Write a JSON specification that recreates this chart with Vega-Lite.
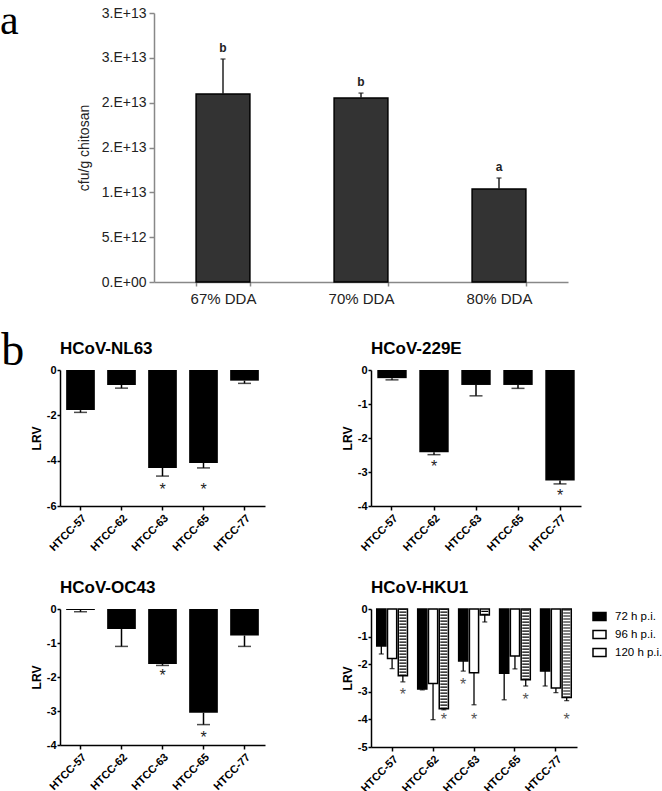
{
  "$schema": "https://vega.github.io/schema/vega-lite/v6.json",
  "background": "white",
  "padding": {"left": 0, "top": 0, "right": 0, "bottom": 0},
  "config": {
    "view": {"stroke": null},
    "font": "Liberation Sans",
    "axis": {"grid": false, "domainColor": "black", "tickColor": "black", "labelColor": "black", "titleColor": "black", "domainWidth": 1.5, "tickWidth": 1.5, "labelOverlap": false},
    "title": {"color": "black"}
  },
  "columns": 1,
  "align": "none",
  "spacing": 22,
  "resolve": {"scale": {"fill": "independent"}, "legend": {"fill": "independent"}},
  "concat": [
    {
      "hconcat": [
        {
          "width": 17, "height": 269,
          "title": {"text": "a", "anchor": "start", "frame": "group", "font": "Liberation Serif", "fontSize": 42, "fontWeight": "normal", "dx": -60, "dy": 30, "offset": 0},
          "data": {"values": []},
          "mark": {"type": "text"}
        },
        {
          "width": 414,
          "height": 269,
          "data": {"values": [
            {"dda": "67% DDA", "cfu": 2.097e13, "err": 2.487e13, "letter": "b"},
            {"dda": "70% DDA", "cfu": 2.052e13, "err": 2.107e13, "letter": "b"},
            {"dda": "80% DDA", "cfu": 1.037e13, "err": 1.16e13, "letter": "a"}
          ]},
          "encoding": {
            "x": {"field": "dda", "type": "nominal", "sort": null, "scale": {"paddingInner": 0.61, "paddingOuter": 0.305},
              "axis": {"title": null, "labelAngle": 0, "tickBand": "extent", "labelFontSize": 15, "labelColor": "#222", "domainColor": "#888", "tickColor": "#888", "labelPadding": 5, "tickSize": 4}}
          },
          "layer": [
            {"mark": {"type": "bar", "fill": "#333", "stroke": "black", "strokeWidth": 1.5},
             "encoding": {"y": {"field": "cfu", "type": "quantitative", "scale": {"domain": [0, 3e13], "nice": false},
               "axis": {"title": "cfu/g chitosan", "titleFontSize": 14, "titleFontWeight": "normal", "titleColor": "#222", "titlePadding": 10,
                 "values": [0, 5e12, 1e13, 1.5e13, 2e13, 2.5e13, 3e13], "tickCount": 20, "labelOverlap": false,
                 "labelExpr": "datum.value == 0 ? '0.E+00' : replace(format(datum.value, '.0e'), 'e', '.E')",
                 "labelFontSize": 14, "labelColor": "#222", "domainColor": "#888", "tickColor": "#888", "tickSize": 5, "labelPadding": 3}}}},
            {"mark": {"type": "rule", "color": "#222", "strokeWidth": 1.5},
             "encoding": {"y": {"field": "cfu", "type": "quantitative"}, "y2": {"field": "err"}}},
            {"mark": {"type": "tick", "size": 5, "thickness": 1.5, "color": "#222"},
             "encoding": {"y": {"field": "err", "type": "quantitative"}}},
            {"mark": {"type": "text", "dy": -11, "fontWeight": "bold", "fontSize": 12, "color": "#222"},
             "encoding": {"y": {"field": "err", "type": "quantitative"}, "text": {"field": "letter"}}}
          ]
        }
      ],
      "spacing": 0
    },
    {
      "title": {"text": "b", "anchor": "start", "frame": "bounds", "font": "Liberation Serif", "fontSize": 46, "fontWeight": "normal", "dx": -29, "dy": 35, "offset": 0},
      "columns": 2,
      "spacing": {"row": 26, "column": 76},
      "resolve": {"scale": {"fill": "independent"}, "legend": {"fill": "independent"}},
      "concat": [
        {
          "width": 205, "height": 136,
          "title": {"text": "HCoV-NL63", "anchor": "start", "frame": "group", "fontSize": 17, "fontWeight": "bold", "offset": 6},
          "data": {"values": [
            {"cell": "HTCC-57", "lrv": -1.77, "err": -1.87, "star": null},
            {"cell": "HTCC-62", "lrv": -0.66, "err": -0.8, "star": null},
            {"cell": "HTCC-63", "lrv": -4.32, "err": -4.68, "star": -5.1},
            {"cell": "HTCC-65", "lrv": -4.1, "err": -4.32, "star": -5.1},
            {"cell": "HTCC-77", "lrv": -0.47, "err": -0.59, "star": null}
          ]},
          "encoding": {"x": {"field": "cell", "type": "nominal", "sort": null, "scale": {"paddingInner": 0.3, "paddingOuter": 0.15},
            "axis": {"title": null, "labelAngle": -45, "labelFontWeight": "bold", "labelFontSize": 11, "tickSize": 4, "labelPadding": 2}}},
          "layer": [
            {"mark": {"type": "bar", "fill": "black"},
             "encoding": {"y": {"field": "lrv", "type": "quantitative", "scale": {"domain": [-6, 0], "nice": false},
               "axis": {"title": "LRV", "values": [0, -2, -4, -6], "tickCount": 20, "labelOverlap": false, "labelExpr": "'' + datum.value", "labelFontWeight": "bold", "labelFontSize": 11, "titleFontSize": 12, "titleFontWeight": "bold", "tickSize": 3, "labelPadding": 1, "titlePadding": 3}}}},
            {"mark": {"type": "rule", "strokeWidth": 1.5, "color": "black"},
             "encoding": {"y": {"field": "lrv", "type": "quantitative"}, "y2": {"field": "err"}}},
            {"mark": {"type": "tick", "size": 13, "thickness": 1.5, "color": "black"},
             "encoding": {"y": {"field": "err", "type": "quantitative"}}},
            {"transform": [{"filter": "datum.star != null"}],
             "mark": {"type": "text", "text": "*", "fontSize": 16, "dy": 4.5, "color": "#222"},
             "encoding": {"y": {"field": "star", "type": "quantitative"}}},
            {"mark": {"type": "rule", "strokeWidth": 1.5, "color": "black"},
             "encoding": {"y": {"datum": 0, "type": "quantitative"}}}
          ]
        },
        {
          "width": 210, "height": 136,
          "title": {"text": "HCoV-229E", "anchor": "start", "frame": "group", "fontSize": 17, "fontWeight": "bold", "offset": 6},
          "data": {"values": [
            {"cell": "HTCC-57", "lrv": -0.24, "err": -0.29, "star": null},
            {"cell": "HTCC-62", "lrv": -2.42, "err": -2.49, "star": -2.73},
            {"cell": "HTCC-63", "lrv": -0.44, "err": -0.76, "star": null},
            {"cell": "HTCC-65", "lrv": -0.44, "err": -0.54, "star": null},
            {"cell": "HTCC-77", "lrv": -3.25, "err": -3.35, "star": -3.58}
          ]},
          "encoding": {"x": {"field": "cell", "type": "nominal", "sort": null, "scale": {"paddingInner": 0.3, "paddingOuter": 0.15},
            "axis": {"title": null, "labelAngle": -45, "labelFontWeight": "bold", "labelFontSize": 11, "tickSize": 4, "labelPadding": 2}}},
          "layer": [
            {"mark": {"type": "bar", "fill": "black"},
             "encoding": {"y": {"field": "lrv", "type": "quantitative", "scale": {"domain": [-4, 0], "nice": false},
               "axis": {"title": "LRV", "values": [0, -1, -2, -3, -4], "tickCount": 20, "labelOverlap": false, "labelExpr": "'' + datum.value", "labelFontWeight": "bold", "labelFontSize": 11, "titleFontSize": 12, "titleFontWeight": "bold", "tickSize": 3, "labelPadding": 1, "titlePadding": 3}}}},
            {"mark": {"type": "rule", "strokeWidth": 1.5, "color": "black"},
             "encoding": {"y": {"field": "lrv", "type": "quantitative"}, "y2": {"field": "err"}}},
            {"mark": {"type": "tick", "size": 13, "thickness": 1.5, "color": "black"},
             "encoding": {"y": {"field": "err", "type": "quantitative"}}},
            {"transform": [{"filter": "datum.star != null"}],
             "mark": {"type": "text", "text": "*", "fontSize": 16, "dy": 4.5, "color": "#222"},
             "encoding": {"y": {"field": "star", "type": "quantitative"}}},
            {"mark": {"type": "rule", "strokeWidth": 1.5, "color": "black"},
             "encoding": {"y": {"datum": 0, "type": "quantitative"}}}
          ]
        },
        {
          "width": 205, "height": 136,
          "title": {"text": "HCoV-OC43", "anchor": "start", "frame": "group", "fontSize": 17, "fontWeight": "bold", "offset": 6},
          "data": {"values": [
            {"cell": "HTCC-57", "lrv": -0.03, "err": -0.08, "star": null},
            {"cell": "HTCC-62", "lrv": -0.59, "err": -1.1, "star": null},
            {"cell": "HTCC-63", "lrv": -1.62, "err": -1.66, "star": -1.84},
            {"cell": "HTCC-65", "lrv": -3.05, "err": -3.4, "star": -3.66},
            {"cell": "HTCC-77", "lrv": -0.78, "err": -1.1, "star": null}
          ]},
          "encoding": {"x": {"field": "cell", "type": "nominal", "sort": null, "scale": {"paddingInner": 0.3, "paddingOuter": 0.15},
            "axis": {"title": null, "labelAngle": -45, "labelFontWeight": "bold", "labelFontSize": 11, "tickSize": 4, "labelPadding": 2}}},
          "layer": [
            {"mark": {"type": "bar", "fill": "black"},
             "encoding": {"y": {"field": "lrv", "type": "quantitative", "scale": {"domain": [-4, 0], "nice": false},
               "axis": {"title": "LRV", "values": [0, -1, -2, -3, -4], "tickCount": 20, "labelOverlap": false, "labelExpr": "'' + datum.value", "labelFontWeight": "bold", "labelFontSize": 11, "titleFontSize": 12, "titleFontWeight": "bold", "tickSize": 3, "labelPadding": 1, "titlePadding": 3}}}},
            {"mark": {"type": "rule", "strokeWidth": 1.5, "color": "black"},
             "encoding": {"y": {"field": "lrv", "type": "quantitative"}, "y2": {"field": "err"}}},
            {"mark": {"type": "tick", "size": 13, "thickness": 1.5, "color": "black"},
             "encoding": {"y": {"field": "err", "type": "quantitative"}}},
            {"transform": [{"filter": "datum.star != null"}],
             "mark": {"type": "text", "text": "*", "fontSize": 16, "dy": 4.5, "color": "#222"},
             "encoding": {"y": {"field": "star", "type": "quantitative"}}},
            {"mark": {"type": "rule", "strokeWidth": 1.5, "color": "black"},
             "encoding": {"y": {"datum": 0, "type": "quantitative"}}}
          ]
        },
        {
          "width": 206, "height": 138,
          "title": {"text": "HCoV-HKU1", "anchor": "start", "frame": "group", "fontSize": 17, "fontWeight": "bold", "offset": 6},
          "data": {"values": [
            {"cell": "HTCC-57", "time": "72 h p.i.", "lrv": -1.34, "err": -1.63, "star": null},
            {"cell": "HTCC-57", "time": "96 h p.i.", "lrv": -1.79, "err": -2.16, "star": null},
            {"cell": "HTCC-57", "time": "120 h p.i.", "lrv": -2.42, "err": -2.64, "star": -2.95},
            {"cell": "HTCC-62", "time": "72 h p.i.", "lrv": -2.9, "err": -2.93, "star": null},
            {"cell": "HTCC-62", "time": "96 h p.i.", "lrv": -2.7, "err": -4.01, "star": null},
            {"cell": "HTCC-62", "time": "120 h p.i.", "lrv": -3.61, "err": -3.65, "star": -3.85},
            {"cell": "HTCC-63", "time": "72 h p.i.", "lrv": -1.88, "err": -2.25, "star": -2.58},
            {"cell": "HTCC-63", "time": "96 h p.i.", "lrv": -2.31, "err": -3.47, "star": -3.85},
            {"cell": "HTCC-63", "time": "120 h p.i.", "lrv": -0.22, "err": -0.47, "star": null},
            {"cell": "HTCC-65", "time": "72 h p.i.", "lrv": -2.33, "err": -3.29, "star": null},
            {"cell": "HTCC-65", "time": "96 h p.i.", "lrv": -1.7, "err": -2.17, "star": null},
            {"cell": "HTCC-65", "time": "120 h p.i.", "lrv": -2.56, "err": -2.79, "star": -3.12},
            {"cell": "HTCC-77", "time": "72 h p.i.", "lrv": -2.25, "err": -2.79, "star": null},
            {"cell": "HTCC-77", "time": "96 h p.i.", "lrv": -2.86, "err": -3.03, "star": null},
            {"cell": "HTCC-77", "time": "120 h p.i.", "lrv": -3.21, "err": -3.32, "star": -3.87}
          ]},
          "encoding": {
            "x": {"field": "cell", "type": "nominal", "sort": null, "scale": {"paddingInner": 0.25, "paddingOuter": 0.14},
              "axis": {"title": null, "labelAngle": -45, "labelFontWeight": "bold", "labelFontSize": 11, "tickSize": 4, "labelPadding": 2}},
            "xOffset": {"field": "time", "type": "nominal", "scale": {"domain": ["72 h p.i.", "96 h p.i.", "120 h p.i."], "paddingInner": 0.15}}
          },
          "layer": [
            {"mark": {"type": "bar", "stroke": "black", "strokeWidth": 1.5},
             "encoding": {
               "y": {"field": "lrv", "type": "quantitative", "scale": {"domain": [-5, 0], "nice": false},
                 "axis": {"title": "LRV", "values": [0, -1, -2, -3, -4, -5], "tickCount": 20, "labelOverlap": false, "labelExpr": "'' + datum.value", "labelFontWeight": "bold", "labelFontSize": 11, "titleFontSize": 12, "titleFontWeight": "bold", "tickSize": 3, "labelPadding": 1, "titlePadding": 3}},
               "fill": {"field": "time", "type": "nominal",
                 "scale": {"domain": ["72 h p.i.", "96 h p.i.", "120 h p.i."], "range": ["black", "white", "white"]},
                 "legend": {"title": null, "orient": "right", "offset": 15, "padding": 0, "symbolType": "M-1,-0.6L1,-0.6L1,0.6L-1,0.6Z", "symbolSize": 169, "symbolStrokeColor": "black", "symbolStrokeWidth": 1.5, "labelFontSize": 11.5, "labelOffset": 8, "rowPadding": 3, "labelColor": "black",
                   "encode": {"symbols": {"update": {
                     "stroke": {"value": "black"},
                     "strokeWidth": {"value": 1.5},
                     "fill": [
                     {"test": "datum.value === '120 h p.i.'", "value": {"gradient": "linear", "x1": 0, "y1": 0, "x2": 0, "y2": 1, "stops": [
                       {"offset": 0, "color": "white"}, {"offset": 0.42, "color": "white"}, {"offset": 0.42, "color": "black"}, {"offset": 0.58, "color": "black"},
                       {"offset": 0.58, "color": "white"}, {"offset": 1, "color": "white"}]}},
                     {"signal": "datum.value === '72 h p.i.' ? 'black' : 'white'"}]}}}}}
             }},
            {"transform": [{"filter": "datum.time === '120 h p.i.'"}],
             "mark": {"type": "rule", "strokeWidth": 7, "strokeDash": [1.2, 1.8], "color": "black", "strokeCap": "butt"},
             "encoding": {"y": {"field": "lrv", "type": "quantitative"}, "y2": {"datum": 0}}},
            {"mark": {"type": "rule", "strokeWidth": 1.3, "color": "black"},
             "encoding": {"y": {"field": "lrv", "type": "quantitative"}, "y2": {"field": "err"}}},
            {"mark": {"type": "tick", "size": 5, "thickness": 1.3, "color": "black"},
             "encoding": {"y": {"field": "err", "type": "quantitative"}}},
            {"transform": [{"filter": "datum.star != null"}],
             "mark": {"type": "text", "text": "*", "fontSize": 16, "dy": 4.5, "color": "#555"},
             "encoding": {"y": {"field": "star", "type": "quantitative"}}},
            {"mark": {"type": "rule", "strokeWidth": 1.5, "color": "black"},
             "encoding": {"y": {"datum": 0, "type": "quantitative"}}}
          ]
        }
      ]
    }
  ]
}
